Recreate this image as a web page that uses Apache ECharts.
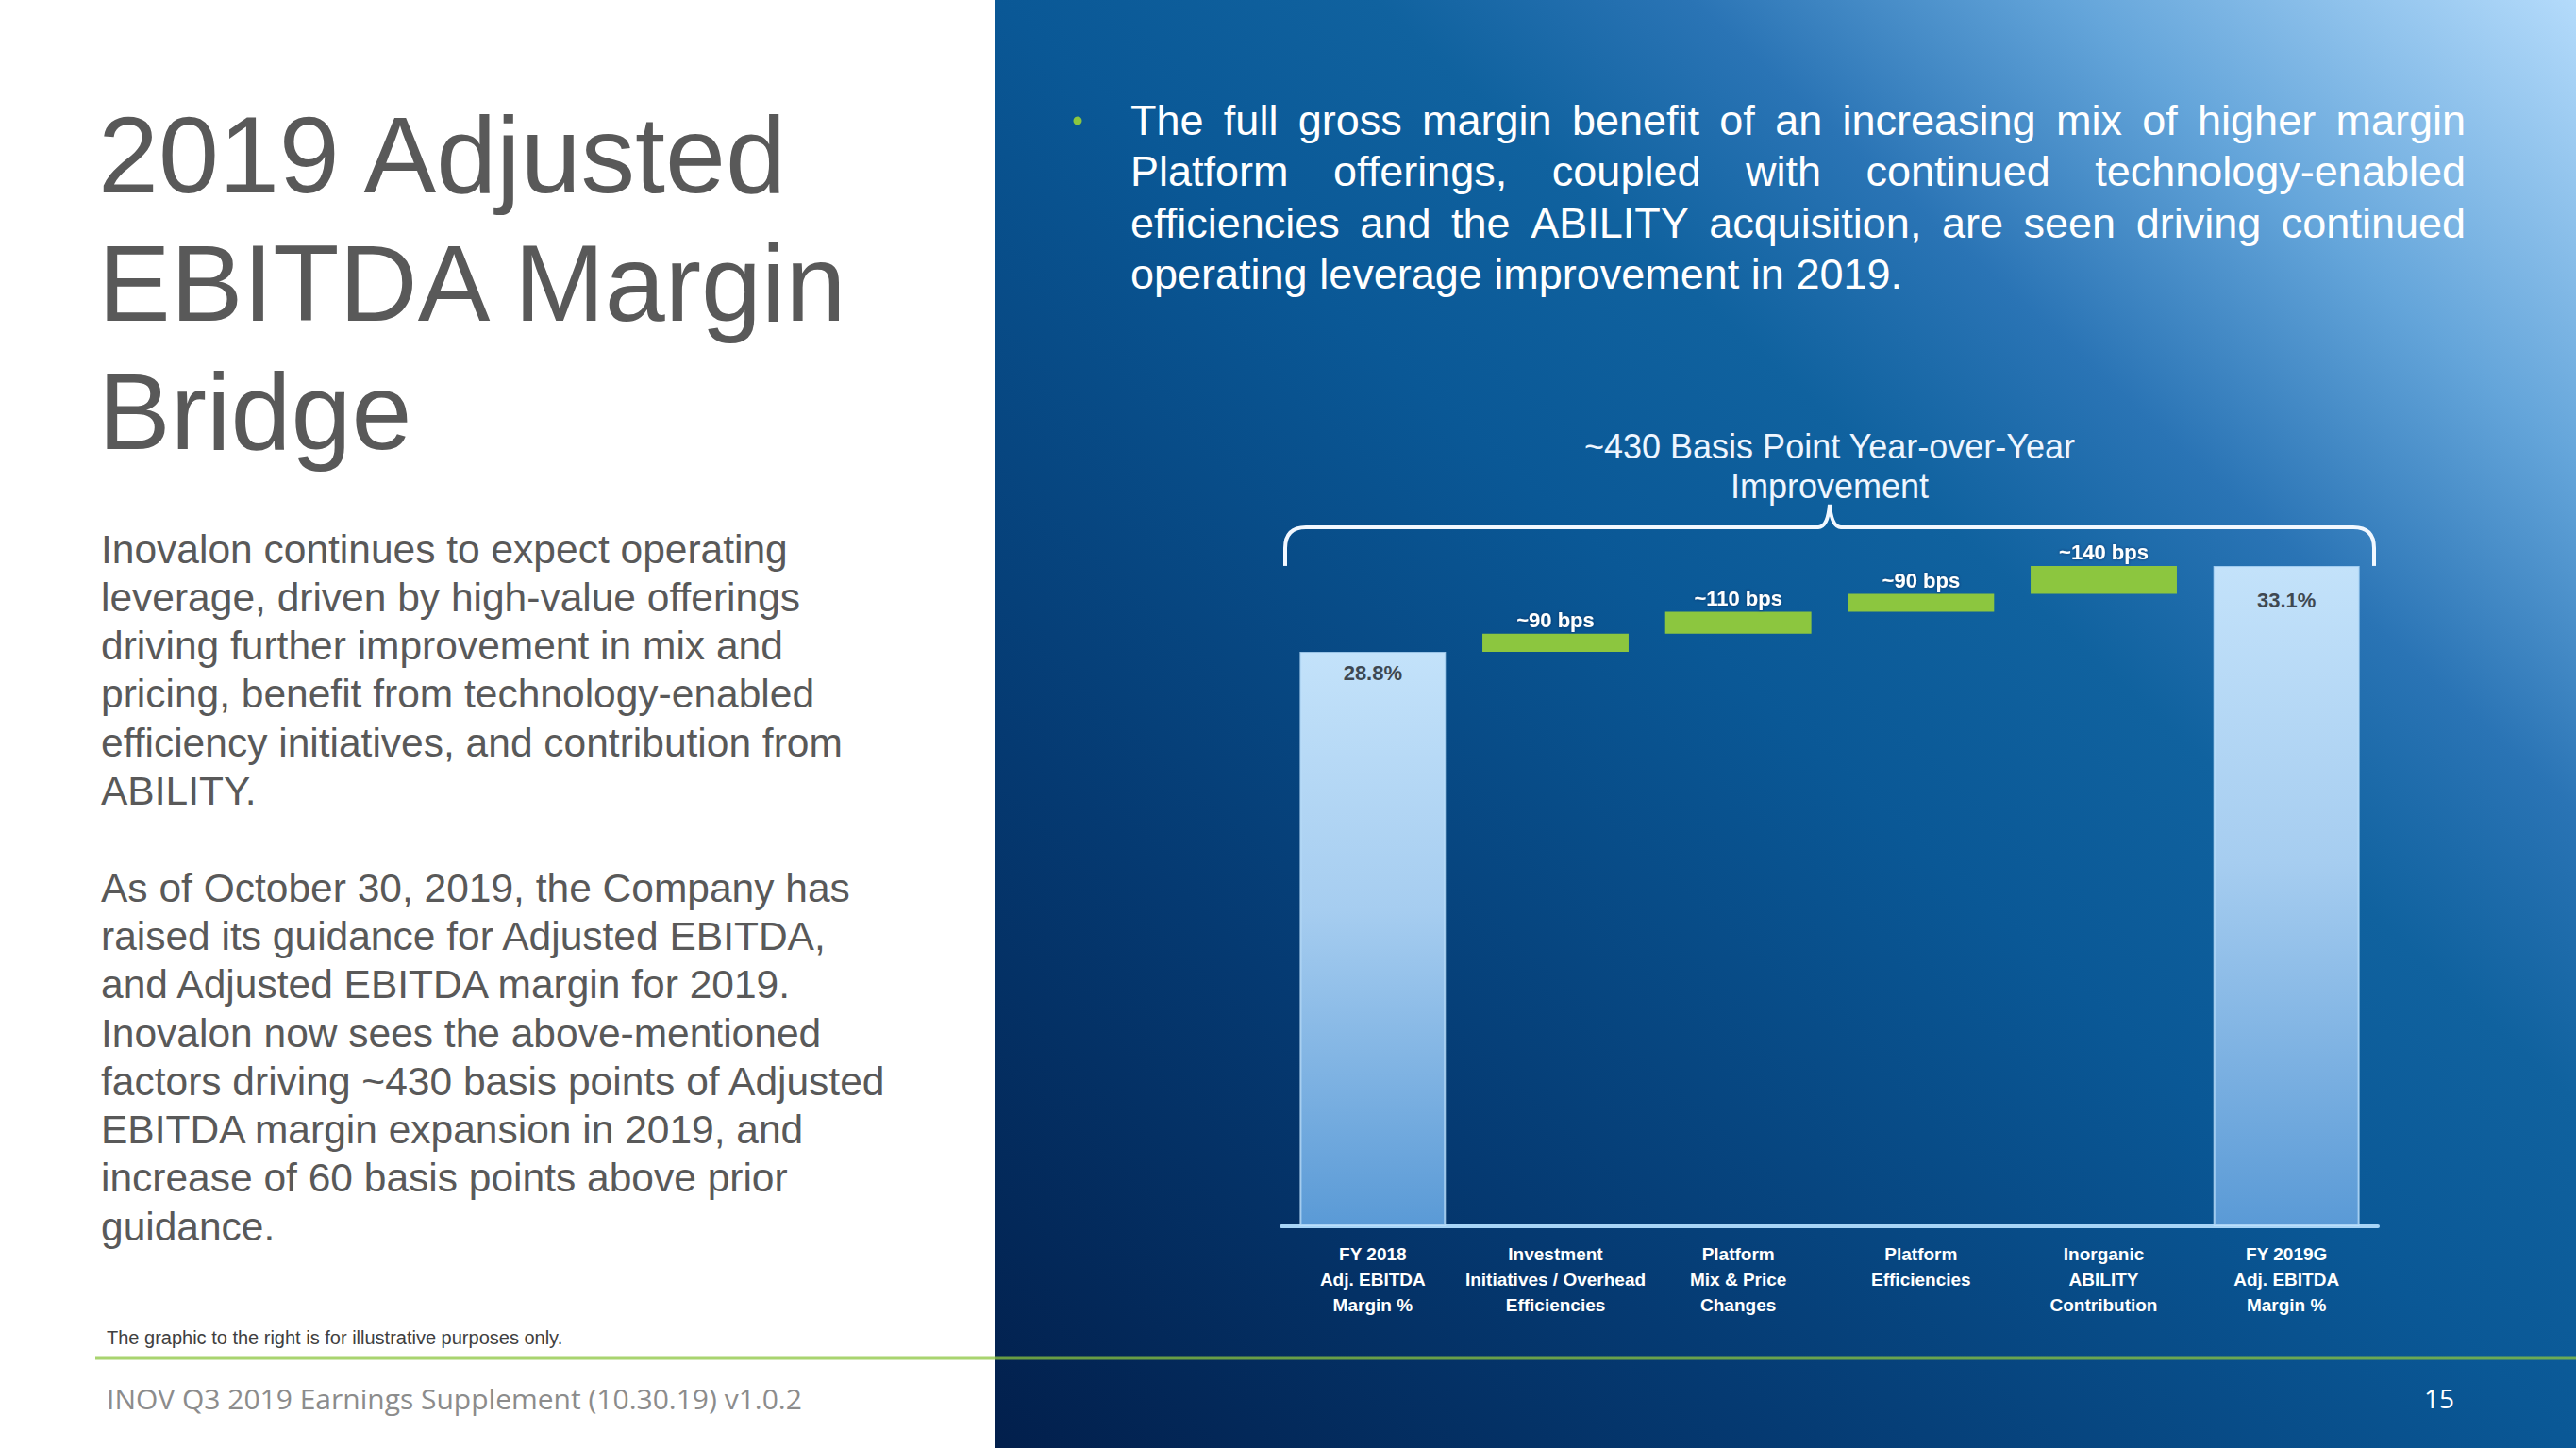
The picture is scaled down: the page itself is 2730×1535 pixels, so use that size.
<!DOCTYPE html>
<html><head><meta charset="utf-8">
<script src="https://cdn.jsdelivr.net/npm/echarts@6/dist/echarts.min.js"></script>
<style>html,body{margin:0;padding:0;background:#fff;overflow:hidden}#chart{width:2730px;height:1535px}</style>
</head><body><div id="chart"></div>
<script>
// ---------- data ----------
const categories = [
  'FY 2018\nAdj. EBITDA\nMargin %',
  'Investment\nInitiatives / Overhead\nEfficiencies',
  'Platform\nMix & Price\nChanges',
  'Platform\nEfficiencies',
  'Inorganic\nABILITY\nContribution',
  'FY 2019G\nAdj. EBITDA\nMargin %'
];
const startMargin = 28.8;
const increments = [0.9, 1.1, 0.9, 1.4];
const endMargin = 33.1;
const incrementLabels = ['~90 bps', '~110 bps', '~90 bps', '~140 bps'];
const totalLabels = ['28.8%', '33.1%'];
const chartTitleLines = ['~430 Basis Point Year-over-Year', 'Improvement'];
const slideTitleLines = ['2019 Adjusted', 'EBITDA Margin', 'Bridge'];
const bodyLines = [
  'Inovalon continues to expect operating',
  'leverage, driven by high-value offerings',
  'driving further improvement in mix and',
  'pricing, benefit from technology-enabled',
  'efficiency initiatives, and contribution from',
  'ABILITY.',
  '',
  'As of October 30, 2019, the Company has',
  'raised its guidance for Adjusted EBITDA,',
  'and Adjusted EBITDA margin for 2019.',
  'Inovalon now sees the above-mentioned',
  'factors driving ~430 basis points of Adjusted',
  'EBITDA margin expansion in 2019, and',
  'increase of 60 basis points above prior',
  'guidance.'
];
const bulletLines = [
  'The full gross margin benefit of an increasing mix of higher margin',
  'Platform offerings, coupled with continued technology-enabled',
  'efficiencies and the ABILITY acquisition, are seen driving continued',
  'operating leverage improvement in 2019.'
];
const footnote = 'The graphic to the right is for illustrative purposes only.';
const footer = 'INOV Q3 2019 Earnings Supplement (10.30.19) v1.0.2';
const pageNumber = '15';

// ---------- derived series ----------
const baseData = [0];
let run = startMargin;
increments.forEach(v => { baseData.push(+run.toFixed(1)); run += v; });
baseData.push(0);
const totalData = [
  {value: startMargin, label: {distance: 12}},
  '-', '-', '-', '-',
  {value: endMargin, label: {distance: 26}}
];
const incData = ['-'].concat(increments).concat(['-']);

const FONT = "'Liberation Sans', Arial, Helvetica, sans-serif";
const GRAY = '#595959';

const chart = echarts.init(document.getElementById('chart'), null, {renderer: 'svg'});

const cv = document.createElement('canvas').getContext('2d');
function measure(t, font) { cv.font = font; return cv.measureText(t).width; }

const graphics = [];
graphics.push({type: 'rect', z: -100, shape: {x: 0, y: 0, width: 1055, height: 1535}, style: {fill: '#ffffff'}});
graphics.push({type: 'rect', z: -100, shape: {x: 1055, y: 0, width: 1675, height: 1535},
  style: {fill: new echarts.graphic.LinearGradient(0, 1, 1, 0, [
    {offset: 0, color: '#021f4c'}, {offset: 0.25, color: '#053a72'}, {offset: 0.5, color: '#0a5896'},
    {offset: 0.62, color: '#10629f'}, {offset: 0.72, color: '#2a74b5'}, {offset: 0.84, color: '#64a5da'},
    {offset: 1, color: '#b4dbfb'}])}});
graphics.push({type: 'line', z: -50, shape: {x1: 101, y1: 1440, x2: 2730, y2: 1440},
  style: {stroke: 'rgba(140,198,63,0.75)', lineWidth: 3}});

slideTitleLines.forEach((t, i) => graphics.push({type: 'text', x: 104, y: 164 + i * 136,
  style: {text: t, fill: GRAY, font: '115px ' + FONT, verticalAlign: 'middle'}}));
bodyLines.forEach((t, i) => { if (t) graphics.push({type: 'text', x: 107, y: 582 + i * 51.3,
  style: {text: t, fill: GRAY, font: '42.5px ' + FONT, verticalAlign: 'middle'}}); });
graphics.push({type: 'text', x: 113, y: 1418, style: {text: footnote, fill: '#404040', font: '20px ' + FONT, verticalAlign: 'middle'}});
graphics.push({type: 'text', x: 113, y: 1482, style: {text: footer, fill: '#8c8c8c', font: "30px 'Open Sans', sans-serif", verticalAlign: 'middle'}});
graphics.push({type: 'text', x: 2585, y: 1482, style: {text: pageNumber, fill: '#ffffff', font: "28px 'Open Sans', sans-serif", align: 'center', verticalAlign: 'middle'}});

graphics.push({type: 'circle', shape: {cx: 1142, cy: 128, r: 4.5}, style: {fill: '#8cc63f'}});
const BF = '45px ' + FONT;
const bx0 = 1198, bx1 = 2613;
bulletLines.forEach((line, li) => {
  const y = 127 + li * 54.6;
  if (li === bulletLines.length - 1) {
    graphics.push({type: 'text', x: bx0, y: y, style: {text: line, fill: '#ffffff', font: BF, verticalAlign: 'middle'}});
    return;
  }
  const words = line.split(' ');
  const widths = words.map(w => measure(w, BF));
  const total = widths.reduce((a, b) => a + b, 0);
  const gap = (bx1 - bx0 - total) / (words.length - 1);
  let x = bx0;
  words.forEach((w, wi) => {
    graphics.push({type: 'text', x: x, y: y, style: {text: w, fill: '#ffffff', font: BF, verticalAlign: 'middle'}});
    x += widths[wi] + gap;
  });
});

const option = {
  animation: false,
  grid: {left: 1358, width: 1162, top: 454, height: 846},
  xAxis: {
    type: 'category', data: categories,
    axisLine: {lineStyle: {color: '#a8d5f7', width: 4}},
    axisTick: {show: false},
    axisLabel: {color: '#ffffff', fontFamily: FONT, fontWeight: 'bold', fontSize: 19, lineHeight: 27, margin: 16, interval: 0}
  },
  yAxis: {type: 'value', min: 0, max: 40, show: false, splitLine: {show: false}},
  series: [
    {name: 'base', type: 'bar', stack: 'wf', data: baseData, barWidth: '80%', silent: true,
      itemStyle: {color: 'transparent'}},
    {name: 'total', type: 'bar', stack: 'wf', data: totalData, barWidth: '80%',
      itemStyle: {color: new echarts.graphic.LinearGradient(0, 0, 0, 1, [
        {offset: 0, color: '#c3e2fa'}, {offset: 0.45, color: '#a6cdf0'}, {offset: 1, color: '#5a9ad6'}]),
        borderColor: 'rgba(190,225,252,0.8)', borderWidth: 2},
      label: {show: true, position: 'insideTop', distance: 12, color: '#3e4852', fontFamily: FONT, fontWeight: 'bold', fontSize: 22,
        formatter: p => totalLabels[p.dataIndex === 0 ? 0 : 1]}},
    {name: 'increment', type: 'bar', stack: 'wf', data: incData, barWidth: '80%',
      itemStyle: {color: '#8cc63f'},
      label: {show: true, position: 'top', distance: 3, color: '#ffffff', fontFamily: FONT, fontWeight: 'bold', fontSize: 22,
        textShadowColor: 'rgba(0,30,70,0.6)', textShadowBlur: 3,
        formatter: p => incrementLabels[p.dataIndex - 1]}}
  ],
  graphic: {elements: graphics}
};
chart.setOption(option);

// brace + heading, positioned from the axes
const band = chart.convertToPixel({xAxisIndex: 0}, categories[1]) - chart.convertToPixel({xAxisIndex: 0}, categories[0]);
const L = chart.convertToPixel({xAxisIndex: 0}, categories[0]) - band / 2 + 4;
const R = chart.convertToPixel({xAxisIndex: 0}, categories[5]) + band / 2 - 4;
const yEnd = chart.convertToPixel({yAxisIndex: 0}, endMargin);
const yH = yEnd - 41;
const yPeak = yH - 24;
const cx = (L + R) / 2;
const BS = {stroke: '#f2f8ff', lineWidth: 4, fill: null};
const extra = [
  {type: 'line', shape: {x1: L, y1: yEnd, x2: L, y2: yH + 22}, style: BS},
  {type: 'bezierCurve', shape: {x1: L, y1: yH + 22, cpx1: L, cpy1: yH, x2: L + 22, y2: yH}, style: BS},
  {type: 'line', shape: {x1: L + 22, y1: yH, x2: cx - 12, y2: yH}, style: BS},
  {type: 'bezierCurve', shape: {x1: cx - 12, y1: yH, cpx1: cx - 2, cpy1: yH, x2: cx, y2: yPeak}, style: BS},
  {type: 'bezierCurve', shape: {x1: cx, y1: yPeak, cpx1: cx + 2, cpy1: yH, x2: cx + 12, y2: yH}, style: BS},
  {type: 'line', shape: {x1: cx + 12, y1: yH, x2: R - 22, y2: yH}, style: BS},
  {type: 'bezierCurve', shape: {x1: R - 22, y1: yH, cpx1: R, cpy1: yH, x2: R, y2: yH + 22}, style: BS},
  {type: 'line', shape: {x1: R, y1: yH + 22, x2: R, y2: yEnd}, style: BS}
];
chartTitleLines.forEach((t, i) => extra.push({type: 'text', x: cx, y: yPeak - 61 + i * 42,
  style: {text: t, fill: '#eef6ff', font: '36px ' + FONT, align: 'center', verticalAlign: 'middle'}}));
chart.setOption({graphic: {elements: graphics.concat(extra)}});
</script></body></html>
